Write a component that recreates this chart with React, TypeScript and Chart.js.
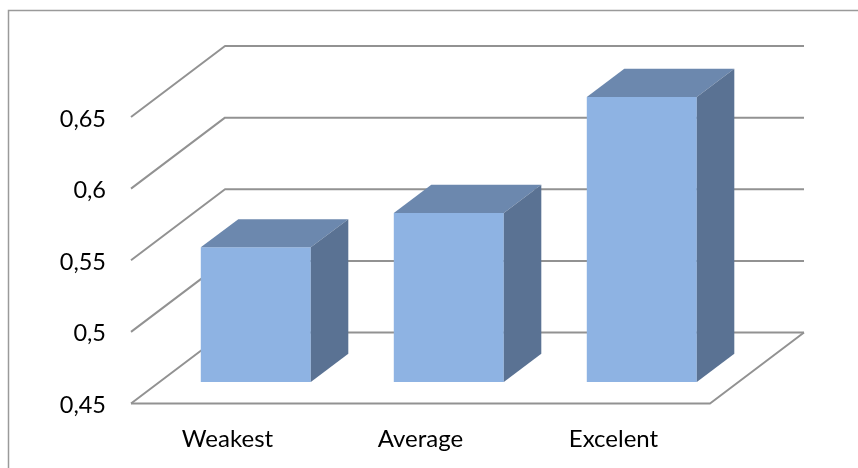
import { useEffect, useRef } from "react";
import { Chart, registerables } from "chart.js";

Chart.register(...registerables);

const categories = ["Weakest", "Average", "Excelent"];
const scores = [0.544, 0.568, 0.649];
const axisMin = 0.45;
const axisMax = 0.65;
const axisStep = 0.05;

const FONT = "Lato, Carlito, sans-serif";
const LINE = "#929292";
const FRONT = "#8eb3e3";
const TOP = "#6c88ae";
const SIDE = "#5a7293";

// Projection of the box: room depth, bar depth, and how far bars sit inside the floor.
const ROOM = { dx: 94, dy: -71 };
const INSET = { dx: 28.3, dy: -21.5 };
const BAR = { dx: 37.5, dy: -28.2 };

const box3d = {
  id: "box3d",
  beforeDraw(chart: any) {
    const { ctx } = chart;
    ctx.save();
    ctx.strokeStyle = "#9a9a9a";
    ctx.lineWidth = 1.5;
    ctx.beginPath();
    ctx.moveTo(8.5, chart.height + 2);
    ctx.lineTo(8.5, 10.5);
    ctx.lineTo(chart.width + 2, 10.5);
    ctx.stroke();
    ctx.restore();
  },
  beforeDatasetsDraw(chart: any) {
    const { ctx, scales, chartArea } = chart;
    const { left, right } = chartArea;
    ctx.save();
    ctx.strokeStyle = LINE;
    ctx.lineWidth = 2;
    ctx.lineJoin = "round";
    for (const tick of scales.y.ticks) {
      const y = scales.y.getPixelForValue(tick.value);
      ctx.beginPath();
      ctx.moveTo(left, y);
      ctx.lineTo(left + ROOM.dx, y + ROOM.dy);
      ctx.lineTo(right + ROOM.dx, y + ROOM.dy);
      ctx.stroke();
    }
    // Floor outline in front of the back wall.
    const floor = scales.y.getPixelForValue(axisMin);
    ctx.beginPath();
    ctx.moveTo(left, floor);
    ctx.lineTo(right, floor);
    ctx.lineTo(right + ROOM.dx, floor + ROOM.dy);
    ctx.stroke();
    ctx.restore();

    // Front faces are drawn by the bar controller, moved back onto the floor.
    ctx.save();
    ctx.translate(INSET.dx, INSET.dy);
  },
  afterDatasetsDraw(chart: any) {
    const { ctx } = chart;
    for (const bar of chart.getDatasetMeta(0).data) {
      const l = bar.x - bar.width / 2;
      const r = bar.x + bar.width / 2;
      const t = bar.y;
      const b = bar.base;
      ctx.fillStyle = TOP;
      ctx.beginPath();
      ctx.moveTo(l, t);
      ctx.lineTo(l + BAR.dx, t + BAR.dy);
      ctx.lineTo(r + BAR.dx, t + BAR.dy);
      ctx.lineTo(r, t);
      ctx.closePath();
      ctx.fill();
      ctx.fillStyle = SIDE;
      ctx.beginPath();
      ctx.moveTo(r, t);
      ctx.lineTo(r + BAR.dx, t + BAR.dy);
      ctx.lineTo(r + BAR.dx, b + BAR.dy);
      ctx.lineTo(r, b);
      ctx.closePath();
      ctx.fill();
    }
    ctx.restore();
  },
};

export default function App() {
  const ref = useRef<HTMLCanvasElement>(null);

  useEffect(() => {
    const chart = new Chart(ref.current!, {
      type: "bar",
      data: {
        labels: categories,
        datasets: [
          {
            data: scores,
            base: axisMin,
            backgroundColor: FRONT,
            borderWidth: 0,
            barPercentage: 1,
            categoryPercentage: 0.57,
            clip: false,
          },
        ],
      },
      options: {
        animation: false,
        responsive: false,
        layout: { padding: { top: 117, right: 148, left: 0, bottom: 0 } },
        plugins: { legend: { display: false }, tooltip: { enabled: false } },
        scales: {
          x: {
            grid: { display: false },
            border: { display: false },
            ticks: {
              color: "#000",
              font: { family: FONT, size: 24 },
              maxRotation: 0,
              padding: 13,
            },
            afterFit(scale: any) {
              scale.height = 64.5;
            },
          },
          y: {
            min: axisMin,
            max: axisMax,
            grid: { display: false, drawTicks: false },
            border: { display: false },
            ticks: {
              stepSize: axisStep,
              color: "#000",
              font: { family: FONT, size: 23.5 },
              padding: 25,
              labelOffset: 2,
              callback: (v: any) => String(Math.round(Number(v) * 100) / 100).replace(".", ","),
            },
            afterFit(scale: any) {
              scale.width = 131;
            },
          },
        },
      },
      plugins: [box3d],
    } as any);
    return () => chart.destroy();
  }, []);

  return (
    <div style={{ position: "fixed", left: 0, top: 0, width: 858, height: 468, background: "#fff" }}>
      <canvas ref={ref} width={858} height={468} style={{ display: "block" }} />
    </div>
  );
}
